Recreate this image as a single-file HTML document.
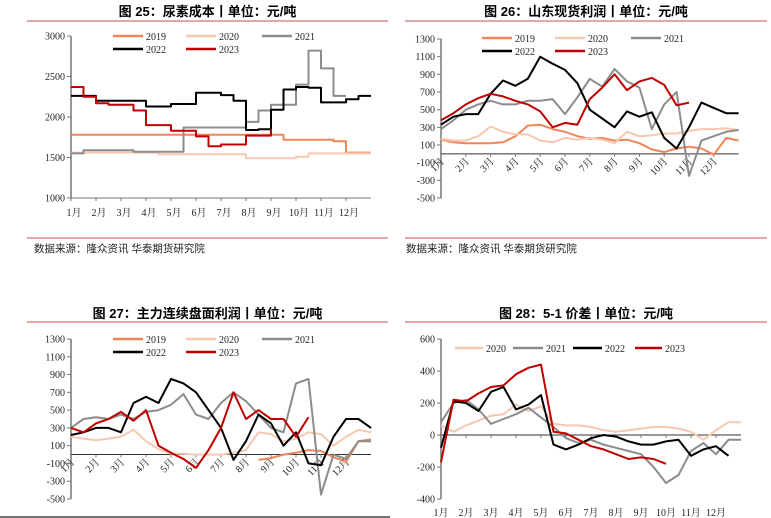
<!DOCTYPE html>
<html><head><meta charset="utf-8">
<style>
body{margin:0;background:#fff;width:771px;height:518px;overflow:hidden;font-family:"Liberation Serif","Noto Serif CJK SC",serif;}
svg{position:absolute;left:0;top:0}
.t{font-family:"Liberation Sans","Noto Sans CJK SC",sans-serif;font-weight:bold;font-size:13px}
.s{font-family:"Liberation Sans","Noto Sans CJK SC",sans-serif;font-size:10.5px;fill:#222}
.ax{font-family:"Liberation Serif","Noto Serif CJK SC",serif;font-size:10px;fill:#222}
</style></head><body>
<svg id="root" width="771" height="518" viewBox="0 0 771 518"></svg>
<script>
const months=["1月","2月","3月","4月","5月","6月","7月","8月","9月","10月","11月","12月"];
// Panel 1: urea cost (half-month samples, t=0..12)
const p1y2019=[1780,1780,1780,1780,1780,1780,1780,1780,1780,1780,1780,1780,1780,1780,1780,1780,1780,1720,1720,1720,1720,1700,1560,1560,1560];
const p1y2020=[1560,1560,1560,1560,1560,1560,1560,1540,1540,1540,1540,1540,1540,1540,1490,1490,1490,1490,1510,1550,1550,1550,1550,1550,1550];
const p1y2021=[1550,1590,1590,1590,1590,1570,1570,1570,1570,1870,1870,1870,1870,1870,1940,2080,2150,2150,2400,2820,2600,2260,2260];
const p1y2022=[2260,2260,2200,2200,2200,2200,2130,2130,2160,2160,2300,2300,2270,2200,1840,1850,2090,2340,2370,2360,2180,2180,2220,2260,2260];
const p1y2023=[2370,2250,2170,2150,2150,2080,1900,1900,1830,1830,1760,1640,1660,1660,1770,1770,1850];
// Panel 2: Shandong spot profit
const p2y2019=[160,130,120,120,120,130,200,320,330,280,250,200,170,180,150,160,120,50,20,60,80,60,-10,180,150];
const p2y2020=[170,150,150,200,310,250,220,220,150,130,180,160,180,160,120,250,200,210,230,230,260,280,280,290,270];
const p2y2021=[280,380,500,560,600,560,560,600,600,620,450,640,850,760,960,820,750,280,560,700,-250,150,200,250,270];
const p2y2022=[330,420,450,450,680,830,770,850,1100,1020,950,800,500,400,300,480,420,470,180,60,300,580,520,460,460];
const p2y2023=[380,460,560,630,680,650,600,560,480,300,350,330,620,750,900,720,820,860,780,550,580];
// Panel 3: futures profit
const p3y2019=[null,null,null,null,null,null,null,null,null,null,null,null,null,null,null,-60,-40,0,20,50,40,-30,-80,150,170];
const p3y2020=[200,180,160,180,200,280,150,60,10,10,0,0,0,20,50,250,230,150,180,250,230,100,200,280,250];
const p3y2021=[300,400,420,400,450,400,480,500,560,680,450,400,580,700,600,450,300,250,800,850,-450,0,-50,150,150];
const p3y2022=[220,250,300,300,250,580,650,580,850,800,700,500,300,-60,150,450,350,100,250,-100,-120,200,400,400,300];
const p3y2023=[300,250,350,400,480,380,500,100,20,-50,-150,50,300,700,400,500,400,400,200,420];
// Panel 4: 5-1 spread
const p4y2020=[60,20,60,90,120,130,190,150,180,70,60,60,50,30,20,30,40,50,50,40,20,-30,30,80,80];
const p4y2021=[80,200,220,160,70,100,130,170,110,50,-20,-50,-30,-60,-80,-100,-120,-200,-300,-250,-100,-50,-120,-30,-30];
const p4y2022=[-80,210,200,150,270,300,160,190,250,-60,-90,-60,-20,0,-10,-40,-60,-60,-40,-30,-130,-90,-70,-130];
const p4y2023=[-170,220,210,260,300,310,380,420,440,20,10,-30,-70,-90,-120,-150,-140,-150,-180];

const C={y2019:"#f0855a",y2020:"#f8c7b0",y2021:"#8c8c8c",y2022:"#000000",y2023:"#c00000"};
const NS="http://www.w3.org/2000/svg";
const root=document.getElementById('root');
function mk(tag,attrs,parent){const e=document.createElementNS(NS,tag);for(const k in attrs)e.setAttribute(k,attrs[k]);(parent||root).appendChild(e);return e;}

function header(x1,x2,ytitle,yline,title,name){
  const g=mk('g',{});
  
  
  const t=mk('text',{x:(x1+x2)/2,y:ytitle,'text-anchor':'middle',class:'t'},g);t.textContent=title;
  
  
  mk('line',{x1:x1,x2:x2,y1:yline,y2:yline,stroke:'#d98a8a','stroke-width':1.5},g);
}
function source(x,y,x1,x2,yl){
  mk('line',{x1:x1,x2:x2,y1:yl,y2:yl,stroke:'#d98a8a','stroke-width':1.5});
  const t=mk('text',{x:x,y:y,class:'s'});t.textContent='数据来源：隆众资讯 华泰期货研究院';
  
  
}
function panel(cfg){
  const g=mk('g',{});
  
  
  const X=t=>cfg.x0+t*cfg.dx;
  const Y=v=>cfg.yTop+(cfg.vMax-v)*(cfg.yBot-cfg.yTop)/(cfg.vMax-cfg.vMin);
  mk('line',{x1:cfg.x0,x2:cfg.x0,y1:Y(cfg.vMax),y2:Y(cfg.vMin),stroke:'#777','stroke-width':1.5},g);
  for(let v=cfg.vMin;v<=cfg.vMax;v+=cfg.step){
    mk('line',{x1:cfg.x0-4,x2:cfg.x0,y1:Y(v),y2:Y(v),stroke:'#777'},g);
    const t=mk('text',{x:cfg.x0-6,y:Y(v)+3.5,'text-anchor':'end',class:'ax'},g);t.textContent=v;
    
    
  }
  const yx=Y(cfg.xAxisAt);
  mk('line',{x1:cfg.x0,x2:X(12),y1:yx,y2:yx,stroke:cfg.xAxisAt===cfg.vMin?'#777':'#333','stroke-width':1},g);
  months.forEach((m,i)=>{
    mk('line',{x1:X(i),x2:X(i),y1:yx,y2:yx+3,stroke:'#777'},g);
    let t;
    if(cfg.rot){t=mk('text',{x:X(i)+4,y:yx+8,'text-anchor':'end',class:'ax',transform:`rotate(-45 ${X(i)+4} ${yx+8})`},g);}
    else{t=mk('text',{x:X(i)+(cfg.lblOff||0),y:cfg.xLblY,'text-anchor':'middle',class:'ax'},g);}
    t.textContent=m;
    
    
  });
  cfg.series.forEach(s=>{
    let d='';let pen=false;
    s.data.forEach((v,i)=>{
      if(v===null){pen=false;return;}
      const px=X(i*0.5),py=Y(v);
      if(!pen){d+=`M${px.toFixed(1)},${py.toFixed(1)}`;pen=true;}
      else if(cfg.stepLine){d+=`H${px.toFixed(1)}V${py.toFixed(1)}`;}
      else d+=`L${px.toFixed(1)},${py.toFixed(1)}`;
    });
    const p=mk('path',{d:d,fill:'none',stroke:C[s.key],'stroke-width':2,'stroke-linejoin':'round'},g);
    
    
  });
  cfg.legend.forEach(L=>{
    const lg=mk('g',{},g);
    
    
    const len=L.len||30;
    mk('line',{x1:L.x,x2:L.x+len,y1:L.y,y2:L.y,stroke:C[L.key],'stroke-width':2.5},lg);
    const t=mk('text',{x:L.x+len+3,y:L.y+4,class:'ax','font-size':'11'},lg);t.textContent=L.key.slice(1);
  });
}
function leg3(x,y){return [{key:'y2019',x:x,y:y},{key:'y2020',x:x+73,y:y},{key:'y2021',x:x+149,y:y},{key:'y2022',x:x,y:y+13},{key:'y2023',x:x+73,y:y+13}];}

header(27,388,16,21,'图 25：尿素成本丨单位：元/吨','panel-urea-cost');
header(405,767,16,21,'图 26：山东现货利润丨单位：元/吨','panel-spot-profit');
header(27,388,318,322,'图 27：主力连续盘面利润丨单位：元/吨','panel-futures-profit');
header(405,767,318,322,'图 28：5-1 价差丨单位：元/吨','panel-spread');
source(34,252,27,388,238);
source(406,252,405,767,238);
mk('line',{x1:0,x2:390,y1:517,y2:517,stroke:'#444','stroke-width':1.5});

panel({name:'urea-cost-chart',x0:71,dx:25,yTop:36,yBot:198,vMin:1000,vMax:3000,step:500,xAxisAt:1000,xLblY:216,stepLine:true,lblOff:3,
  series:[{key:'y2019',data:p1y2019},{key:'y2020',data:p1y2020},{key:'y2021',data:p1y2021},{key:'y2022',data:p1y2022},{key:'y2023',data:p1y2023}],
  legend:leg3(113,36)});
panel({name:'spot-profit-chart',x0:441,dx:24.8,yTop:39,yBot:198,vMin:-500,vMax:1300,step:200,xAxisAt:0,rot:true,
  series:[{key:'y2019',data:p2y2019},{key:'y2020',data:p2y2020},{key:'y2021',data:p2y2021},{key:'y2022',data:p2y2022},{key:'y2023',data:p2y2023}],
  legend:leg3(482,38)});
panel({name:'futures-profit-chart',x0:71,dx:25,yTop:339,yBot:499,vMin:-500,vMax:1300,step:200,xAxisAt:0,rot:true,
  series:[{key:'y2019',data:p3y2019},{key:'y2020',data:p3y2020},{key:'y2021',data:p3y2021},{key:'y2022',data:p3y2022},{key:'y2023',data:p3y2023}],
  legend:leg3(113,339)});
panel({name:'spread-chart',x0:441,dx:25,yTop:339,yBot:499,vMin:-400,vMax:600,step:200,xAxisAt:0,xLblY:516,
  series:[{key:'y2020',data:p4y2020},{key:'y2021',data:p4y2021},{key:'y2022',data:p4y2022},{key:'y2023',data:p4y2023}],
  legend:[{key:'y2020',x:455,y:348,len:28},{key:'y2021',x:513,y:348,len:30},{key:'y2022',x:573,y:348,len:29},{key:'y2023',x:635,y:348,len:27}]});
</script>
</body></html>
